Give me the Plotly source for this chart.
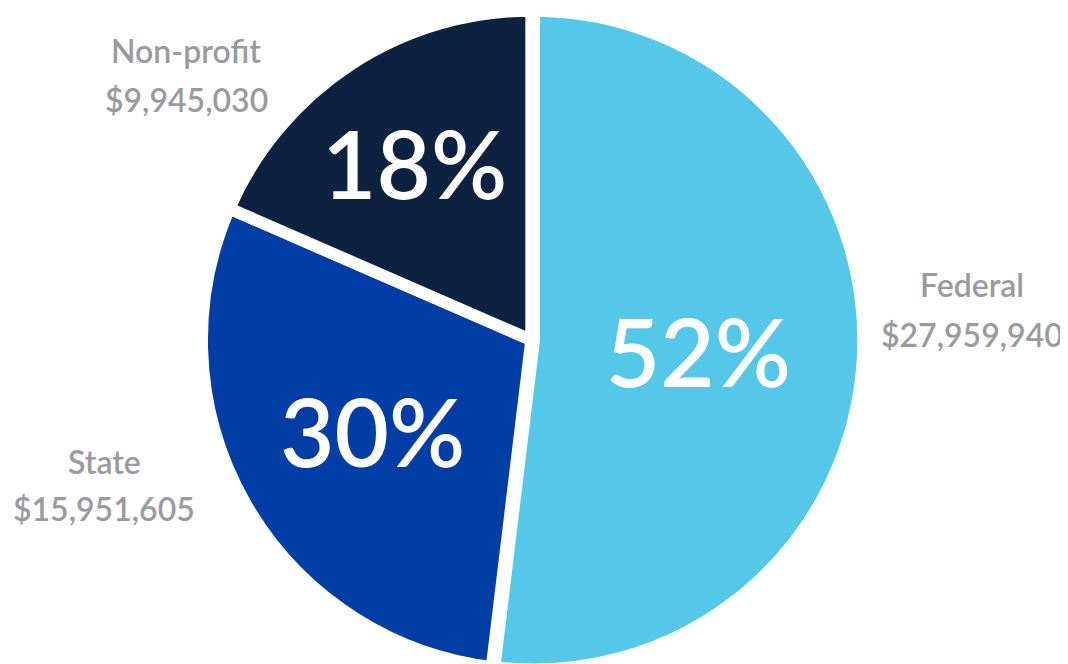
import plotly.graph_objects as go

labels = ["Federal", "State", "Non-profit"]
values = [27959940, 15951605, 9945030]
colors = ["#55C7E8", "#003DA5", "#0C2240"]

fig = go.Figure(go.Pie(
    labels=labels,
    values=values,
    sort=False,
    direction="clockwise",
    rotation=0,
    pull=[0.008, 0, 0],
    marker=dict(colors=colors, line=dict(color="white", width=12)),
    texttemplate="%{percent:.0%}",
    textposition="inside",
    insidetextorientation="horizontal",
    textfont=dict(family="Lato", size=94, color="white", weight=600),
    hoverinfo="label+value+percent",
    domain=dict(x=[0.1, 0.88], y=[0, 1]),
    showlegend=False,
))

# (x center, y of name line, y of value line) in pixels
label_pos = [(964, 276, 326), (96, 453, 501), (178, 42, 92)]
for lab, val, (px, py1, py2) in zip(labels, values, label_pos):
    for txt, py in ((lab, py1), (f"${val:,}", py2)):
        fig.add_annotation(
            x=px / 1068, y=1 - py / 664, xref="paper", yref="paper",
            text=txt, showarrow=False,
            font=dict(family="Lato", size=32, color="#9A9B9F", weight=600),
            align="center", xanchor="center", yanchor="middle",
        )

fig.update_layout(
    width=1068, height=664,
    margin=dict(l=0, r=0, t=0, b=0),
    paper_bgcolor="white", plot_bgcolor="white",
)

fig.write_html("out.html")
